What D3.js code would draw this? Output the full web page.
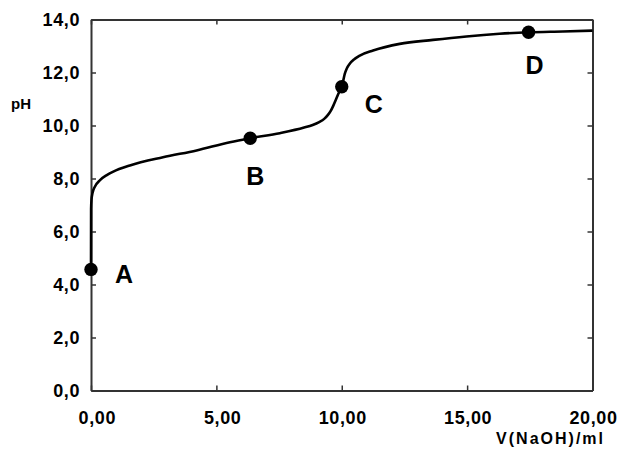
<!DOCTYPE html>
<html>
<head>
<meta charset="utf-8">
<script src="https://cdn.jsdelivr.net/npm/d3@7"></script>
<style>
  body { margin: 0; background: #fff; }
  svg { display: block; }
</style>
</head>
<body>
<script>
// titration curve
var volumes = [0, 0.004, 0.02, 0.06, 0.16, 0.36, 0.63, 0.89, 1.55, 2.87, 4.21, 5.54, 6.35, 7.53, 8.5, 8.84, 9.1, 9.3, 9.45, 9.56, 9.66, 9.76, 9.86, 10.0, 10.06, 10.12, 10.2, 10.32, 10.5, 10.72, 11.25, 12.31, 13.64, 14.97, 16.29, 17.45, 18.82, 20];
var phValues = [4.57, 6.85, 7.2, 7.45, 7.7, 7.94, 8.13, 8.26, 8.49, 8.8, 9.06, 9.37, 9.52, 9.71, 9.92, 10.02, 10.13, 10.25, 10.4, 10.55, 10.74, 10.96, 11.19, 11.46, 11.7, 11.95, 12.15, 12.33, 12.5, 12.64, 12.83, 13.08, 13.23, 13.36, 13.46, 13.52, 13.55, 13.58];

var pointNames = ["A", "B", "C", "D"];
var pointVolumes = [0, 6.35, 10.0, 17.45];
var pointPh = [4.57, 9.52, 11.46, 13.52];

var xTicks = [0, 5, 10, 15, 20];
var yTicks = [0, 2, 4, 6, 8, 10, 12, 14];

var width = 617, height = 454;
var margin = {top: 19.5, right: 24.5, bottom: 63.5, left: 91};

var svg = d3.select("body")
    .append("svg")
    .attr("width", width)
    .attr("height", height);

var x = d3.scaleLinear()
    .domain([0, 20])
    .range([margin.left, width - margin.right]);

var y = d3.scaleLinear()
    .domain([0, 14])
    .range([height - margin.bottom, margin.top]);

var locale = d3.formatLocale({decimal: ",", thousands: ".", grouping: [3], currency: ["", ""]});
var fmt1 = locale.format(".1f");
var fmt2 = locale.format(".2f");

var tickFont = "'Liberation Sans', Arial, sans-serif";

function styleAxis(g) {
    g.select(".domain").attr("stroke", "#333").attr("stroke-width", 2);
    g.selectAll(".tick line").attr("stroke", "#333").attr("stroke-width", 1.5);
    g.selectAll("text")
        .attr("fill", "#000")
        .attr("font-family", tickFont)
        .attr("font-weight", "bold")
        .attr("font-size", 18)
        .attr("letter-spacing", 0.6);
}

// left axis with labels
svg.append("g")
    .attr("transform", "translate(" + margin.left + ",0)")
    .call(d3.axisLeft(y).tickValues(yTicks).tickFormat(fmt1).tickSize(-5).tickSizeOuter(0).tickPadding(11))
    .call(styleAxis);

// bottom axis with labels (right aligned a bit past the tick, like the original)
svg.append("g")
    .attr("transform", "translate(0," + y(0) + ")")
    .call(d3.axisBottom(x).tickValues(xTicks).tickFormat(fmt2).tickSize(-5).tickSizeOuter(0).tickPadding(21))
    .call(styleAxis)
    .selectAll("text")
    .attr("text-anchor", "end")
    .attr("dx", 24.5);

// top and right: ticks only
svg.append("g")
    .attr("transform", "translate(0," + y(14) + ")")
    .call(d3.axisTop(x).tickValues(xTicks).tickFormat("").tickSize(-5).tickSizeOuter(0))
    .call(styleAxis);

svg.append("g")
    .attr("transform", "translate(" + x(20) + ",0)")
    .call(d3.axisRight(y).tickValues(yTicks).tickFormat("").tickSize(-5).tickSizeOuter(0))
    .call(styleAxis);

// axis titles
svg.append("text")
    .attr("x", 11)
    .attr("y", 108.5)
    .attr("font-family", tickFont)
    .attr("font-weight", "bold")
    .attr("font-size", 15)
    .text("pH");

svg.append("text")
    .attr("x", 605)
    .attr("y", 444)
    .attr("text-anchor", "end")
    .attr("font-family", tickFont)
    .attr("font-weight", "bold")
    .attr("font-size", 16)
    .attr("letter-spacing", 2)
    .text("V(NaOH)/ml");

// curve
var line = d3.line()
    .x(function(d, i) { return x(volumes[i]); })
    .y(function(d, i) { return y(phValues[i]); })
    .curve(d3.curveMonotoneX);

svg.append("path")
    .datum(volumes)
    .attr("d", line)
    .attr("fill", "none")
    .attr("stroke", "#000")
    .attr("stroke-width", 2.6)
    .attr("stroke-linejoin", "round");

// marked points
var labelDx = [33, 5, 32, 6];
var labelDy = [13.5, 47, 26.5, 42];

var pts = svg.selectAll(".pt")
    .data(pointNames)
    .enter()
    .append("g")
    .attr("class", "pt")
    .attr("transform", function(d, i) {
        return "translate(" + x(pointVolumes[i]) + "," + y(pointPh[i]) + ")";
    });

pts.append("circle")
    .attr("r", 6.7)
    .attr("fill", "#000");

pts.append("text")
    .attr("x", function(d, i) { return labelDx[i]; })
    .attr("y", function(d, i) { return labelDy[i]; })
    .attr("text-anchor", "middle")
    .attr("font-family", tickFont)
    .attr("font-weight", "bold")
    .attr("font-size", 25)
    .text(function(d) { return d; });
</script>
</body>
</html>
